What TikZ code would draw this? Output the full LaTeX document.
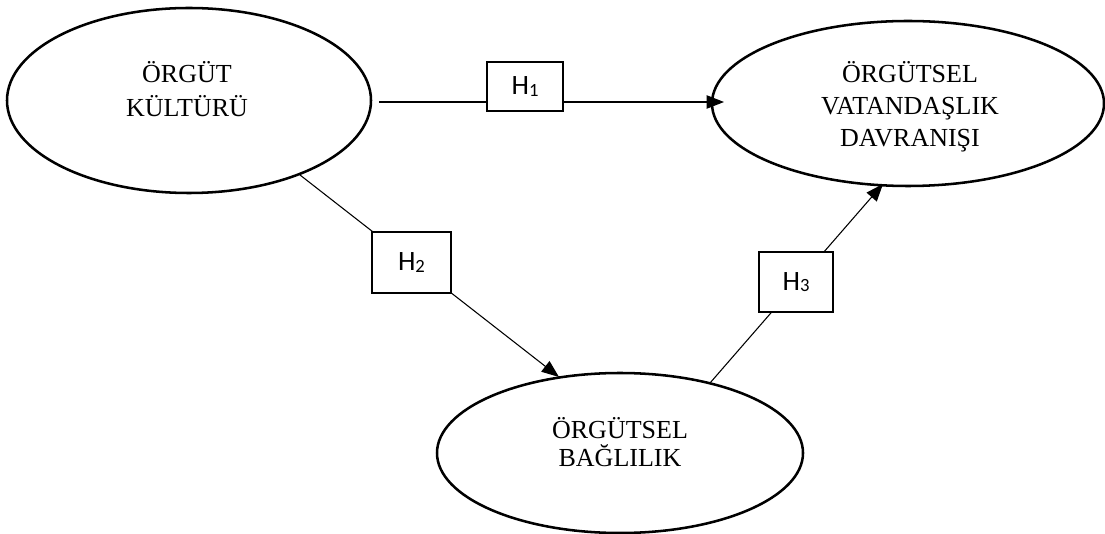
\documentclass[tikz,border=0pt]{standalone}
\usepackage{fontspec}
\setmainfont{Liberation Serif}
\newfontfamily\boxfont{Carlito}
\usetikzlibrary{shapes.geometric,arrows.meta}
\newcommand\hsub[1]{{\fontsize{14}{14}\selectfont\raisebox{-0.8pt}{#1}}}
\begin{document}
\begin{tikzpicture}[x=0.75pt,y=-0.75pt,
  oval/.style={ellipse, draw, line width=1.9pt, inner sep=0pt},
  ovaltext/.style={align=center, font=\fontsize{19.5}{#1}\selectfont, inner sep=0pt},
  hbox/.style={draw, line width=0.8pt, fill=white, inner sep=0pt, font=\boxfont\fontsize{21}{24}\selectfont},
  link/.style={line width=0.8pt},
  arrowlink/.style={link, -{Triangle[length=13pt,width=10pt]}}
]
\useasboundingbox (0,0) rectangle (1105,534);

% ellipses
\node[oval, minimum width=273pt, minimum height=138.75pt] (kultur) at (189,100.5) {};
\node[ovaltext=25.5pt] (kulturlbl) at (187,89) {ÖRGÜT\\KÜLTÜRÜ};

\node[oval, minimum width=294pt, minimum height=123.75pt] (vatandas) at (908,103.5) {};
\node[ovaltext=24pt] (vatandaslbl) at (910,107) {ÖRGÜTSEL\\VATANDAŞLIK\\DAVRANIŞI};

\node[oval, minimum width=274.5pt, minimum height=120pt] (baglilik) at (620,453) {};
\node[ovaltext=21pt] (bagliliklbl) at (620,442) {ÖRGÜTSEL\\BAĞLILIK};

% connector end points
\coordinate (s1) at (379,102);
\coordinate (e1) at (724,102);
\coordinate (s2) at (300,175);
\coordinate (e2) at (559,377);
\coordinate (s3) at (710,383);
\coordinate (e3) at (883,184);

\draw[arrowlink] (s1) -- (e1);
\draw[arrowlink] (s2) -- (e2);
\draw[arrowlink] (s3) -- (e3);

% hypothesis boxes
\node[hbox, minimum width=57pt, minimum height=36.75pt] (h1) at (525,86.5) {H\hsub{1}};
\node[hbox, minimum width=59.25pt, minimum height=45.75pt] (h2) at (411.5,262.5) {H\hsub{2}};
\node[hbox, minimum width=55.5pt, minimum height=45pt] (h3) at (796,282) {H\hsub{3}};
\end{tikzpicture}
\end{document}
